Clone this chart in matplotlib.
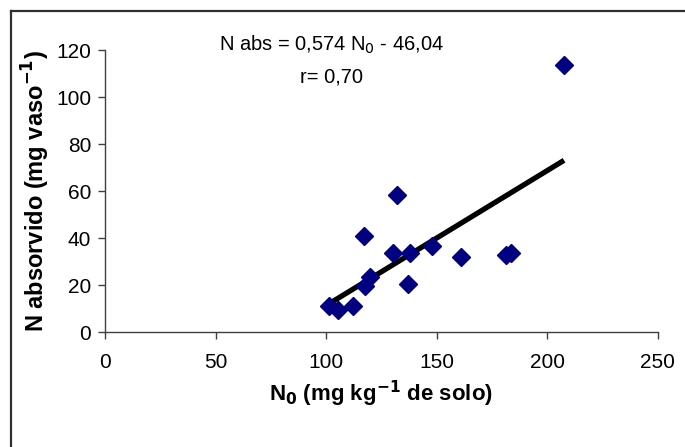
import numpy as np
import matplotlib.pyplot as plt
from matplotlib.lines import Line2D

plt.rcParams['font.family'] = ['Liberation Sans', 'DejaVu Sans']

# N inicial no solo vs N absorvido pelas plantas
n0 = [207.7, 132.3, 130.5, 138.2, 148.0, 161.0, 181.4, 183.7,
      137.0, 117.2, 101.3, 105.5, 112.4, 117.6, 120.0]
n_abs = [113.7, 58.4, 33.9, 33.9, 36.8, 32.2, 32.9, 33.9,
         20.5, 41.1, 11.0, 9.5, 11.2, 19.9, 23.6]

slope = 0.574
intercept = -46.04
r_value = "0,70"

xticks = [0, 50, 100, 150, 200, 250]
yticks = [0, 20, 40, 60, 80, 100, 120]

fig = plt.figure(figsize=(6.85, 4.47), dpi=100)
ax = fig.add_axes([0.1533, 0.2566, 0.8066, 0.6309])

ax.plot(n0, n_abs, ls='none', marker='D', ms=9, color='#000080',
        markeredgecolor='#000080', zorder=3)

xl = np.array([min(n0), max(n0)])
ax.plot(xl, slope * xl + intercept, color='black', lw=3.8, zorder=2,
        solid_capstyle='butt')

ax.set_xlim(0, 250)
ax.set_ylim(0, 120)
ax.set_xticks(xticks)
ax.set_yticks(yticks)
ax.tick_params(direction='out', length=5, width=1, colors='#404040',
               labelcolor='black', labelsize=15, pad=5)
ax.tick_params(axis='x', pad=10)
for s in ['top', 'right']:
    ax.spines[s].set_visible(False)
for s in ['left', 'bottom']:
    ax.spines[s].set_color('#404040')
    ax.spines[s].set_linewidth(1)

ax.set_xlabel(r'N$_\mathbf{0}$ (mg kg$^\mathbf{-1}$ de solo)', fontsize=16,
              fontweight='bold', labelpad=5)
ax.set_ylabel(r'N absorvido (mg vaso$^\mathbf{-1}$)', fontsize=17,
              fontweight='bold', labelpad=3)

ax.text(0.41, 1.02, r'N abs = 0,574 N$_0$ - 46,04', transform=ax.transAxes,
        ha='center', va='center', fontsize=14.5)
ax.text(0.41, 0.905, 'r= ' + r_value, transform=ax.transAxes,
        ha='center', va='center', fontsize=14.5)

# moldura da area do grafico
fig.add_artist(Line2D([11 / 685, 1], [1 - 11 / 447, 1 - 11 / 447],
                      color='#303030', lw=1.6))
fig.add_artist(Line2D([11 / 685, 11 / 685], [0, 1 - 11 / 447],
                      color='#303030', lw=1.6))

fig.savefig('out.png', dpi=100)
